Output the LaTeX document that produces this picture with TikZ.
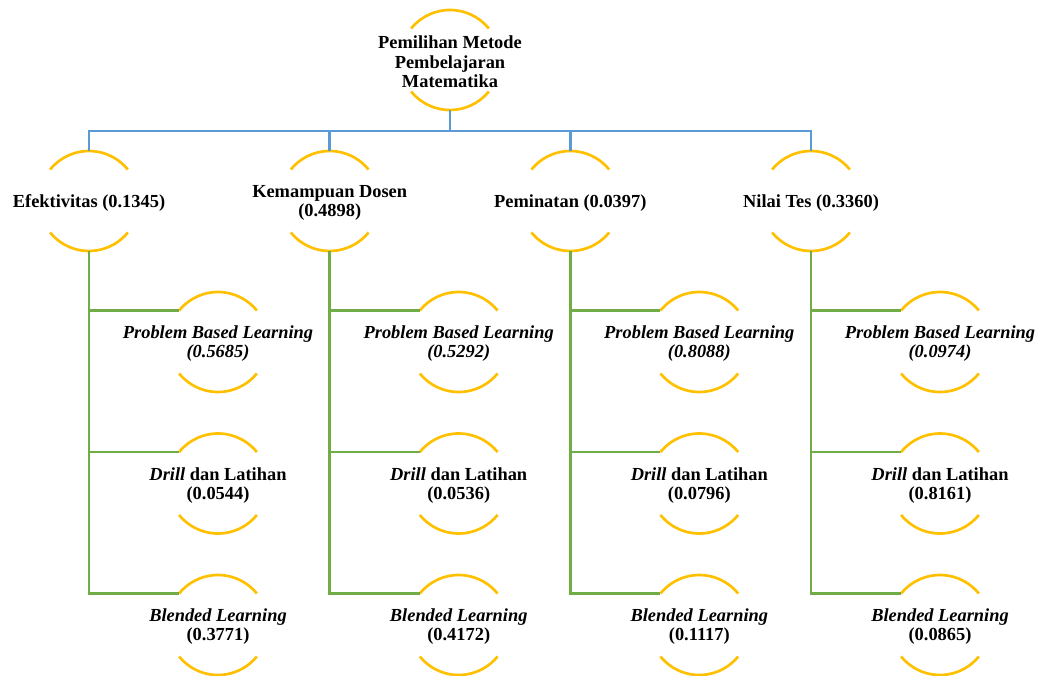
\documentclass[tikz,border=0pt]{standalone}
\usepackage{fontspec}
\setmainfont{Liberation Serif}
\definecolor{ringgold}{HTML}{FFC000}
\definecolor{lineblue}{HTML}{5B9BD5}
\definecolor{linegreen}{HTML}{70AD47}
\tikzset{
  ring/.style={circle,minimum size=75pt,inner sep=0pt,outer sep=0pt,draw=none},
  lbl/.style={align=center,inner sep=0pt,yshift=-1.3pt,font=\bfseries\fontsize{13.8}{14.3}\selectfont},
  arcst/.style={draw=ringgold,line width=2pt},
  bl/.style={draw=lineblue,line width=1.9pt},
  gr/.style={draw=linegreen,line width=1.9pt}
}
\newcommand\myring[4]{%
  \node[ring] (#1) at (#2,#3) {};
  \node[lbl] (#1t) at (#1.center) {#4};
  \draw[arcst] (#1.141) arc[start angle=141,end angle=39,radius=50];
  \draw[arcst] (#1.219) arc[start angle=219,end angle=321,radius=50];
}
\begin{document}
\begin{tikzpicture}[x=0.75pt,y=0.75pt]
\useasboundingbox (0,0) rectangle (1038,-675);
% top
\myring{top}{450}{-60}{Pemilihan Metode\\Pembelajaran\\Matematika}
% level 2
\myring{a}{89}{-201}{Efektivitas (0.1345)}
\myring{b}{329.7}{-201}{Kemampuan Dosen\\(0.4898)}
\myring{c}{570.3}{-201}{Peminatan (0.0397)}
\myring{d}{811}{-201}{Nilai Tes (0.3360)}
% level 3
\myring{a1}{218}{-342}{\textit{Problem Based Learning}\\\textit{(0.5685)}}
\myring{a2}{218}{-483.5}{\textit{Drill} dan Latihan\\(0.0544)}
\myring{a3}{218}{-625}{\textit{Blended Learning}\\(0.3771)}
\myring{b1}{458.7}{-342}{\textit{Problem Based Learning}\\\textit{(0.5292)}}
\myring{b2}{458.7}{-483.5}{\textit{Drill} dan Latihan\\(0.0536)}
\myring{b3}{458.7}{-625}{\textit{Blended Learning}\\(0.4172)}
\myring{c1}{699.3}{-342}{\textit{Problem Based Learning}\\\textit{(0.8088)}}
\myring{c2}{699.3}{-483.5}{\textit{Drill} dan Latihan\\(0.0796)}
\myring{c3}{699.3}{-625}{\textit{Blended Learning}\\(0.1117)}
\myring{d1}{940}{-342}{\textit{Problem Based Learning}\\\textit{(0.0974)}}
\myring{d2}{940}{-483.5}{\textit{Drill} dan Latihan\\(0.8161)}
\myring{d3}{940}{-625}{\textit{Blended Learning}\\(0.0865)}
% blue connectors
\coordinate (bus) at (450,-131);
\draw[bl] (top.south) -- (bus);
\draw[bl] (a.north) -- (a.north |- bus) -- (d.north |- bus) -- (d.north);
\draw[bl] (b.north) -- (b.north |- bus);
\draw[bl] (c.north) -- (c.north |- bus);
% green connectors
\foreach \p in {a,b,c,d}{
  \draw[gr] (\p.south) |- (\p3.141);
  \draw[gr] (\p.south |- \p1.141) -- (\p1.141);
  \draw[gr] (\p.south |- \p2.141) -- (\p2.141);
}
\end{tikzpicture}
\end{document}
